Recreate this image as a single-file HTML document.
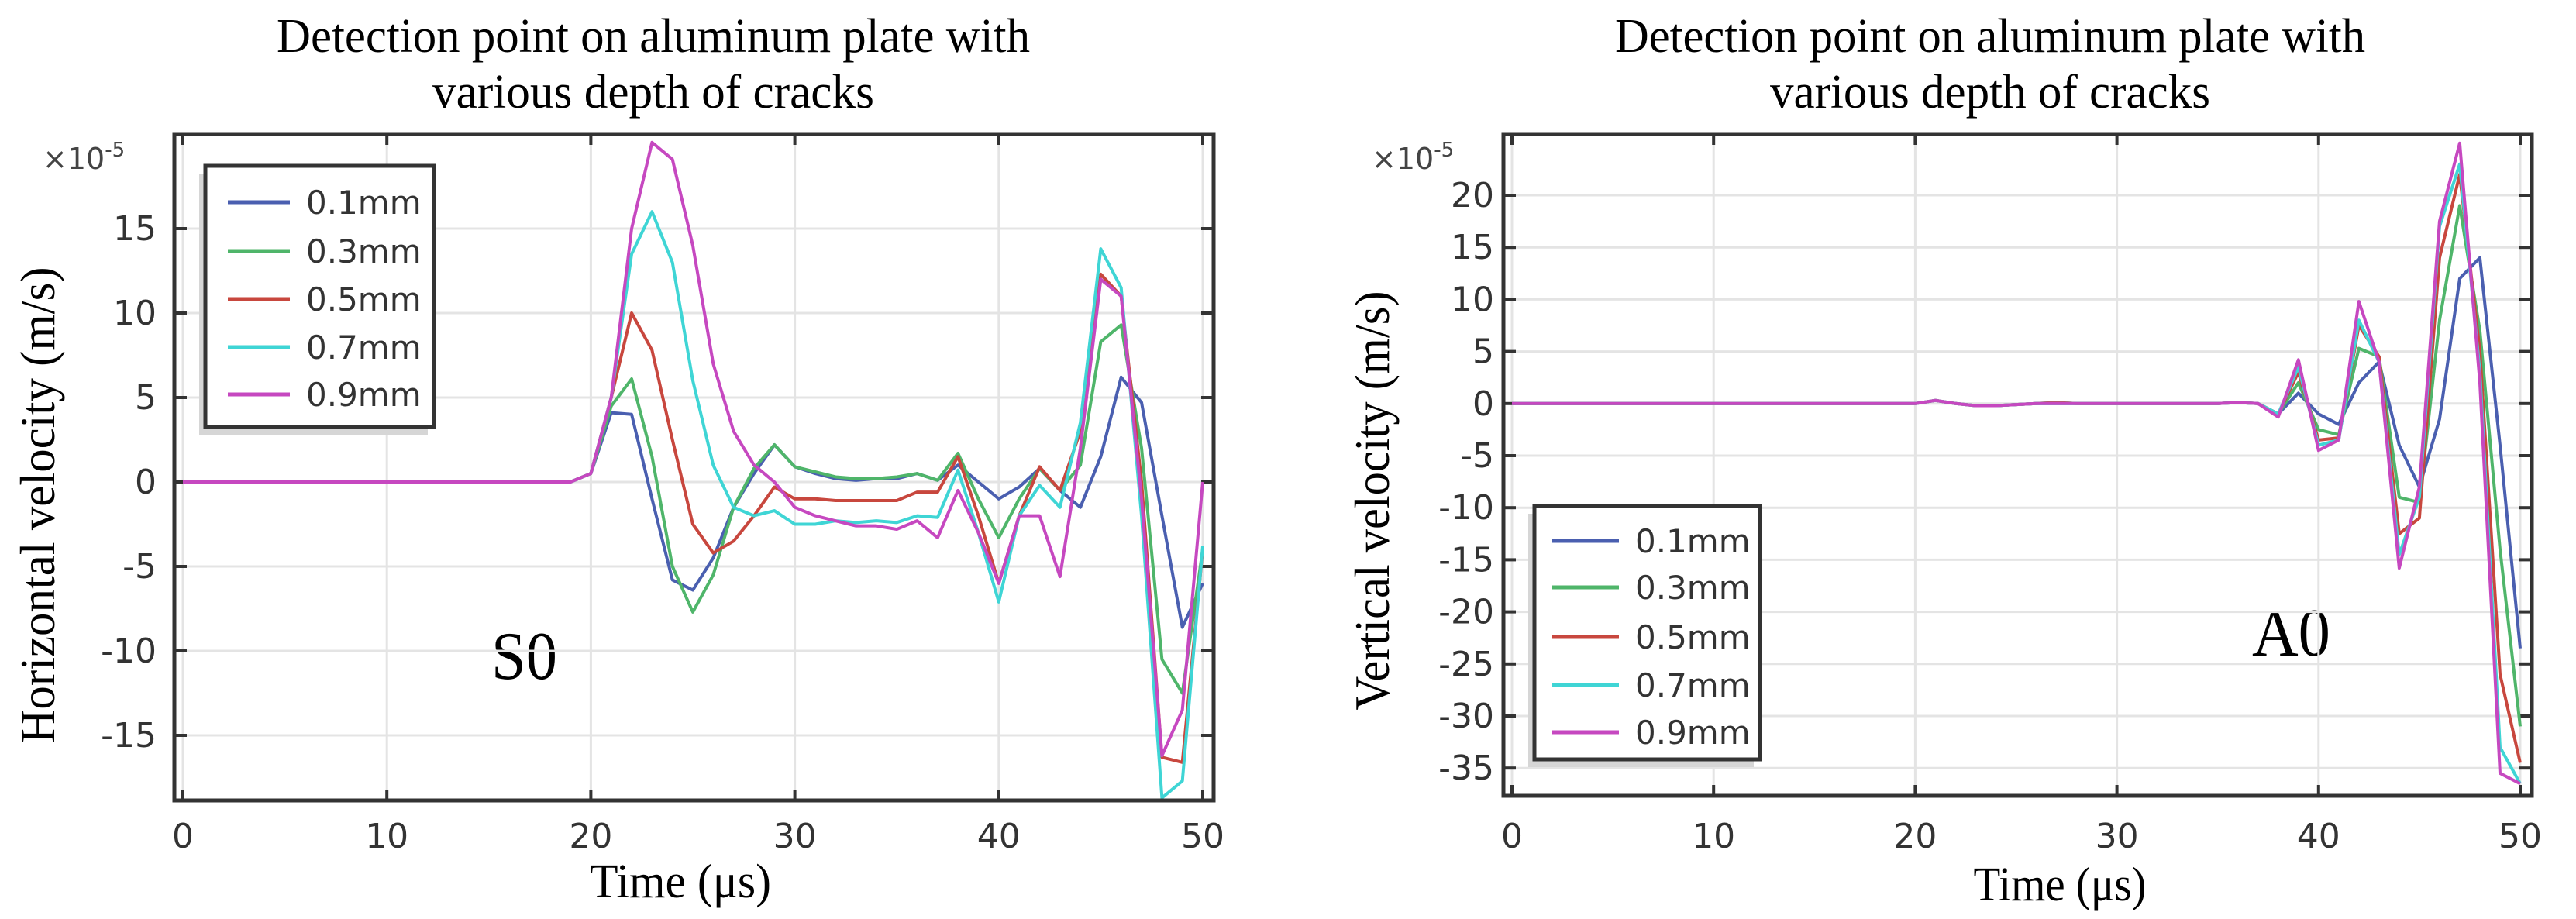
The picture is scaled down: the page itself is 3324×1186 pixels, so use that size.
<!DOCTYPE html>
<html><head><meta charset="utf-8"><style>
html,body{margin:0;padding:0;background:#fff;}
svg{display:block;}
text{font-family:"DejaVu Sans","Liberation Sans",sans-serif;}
.serif{font-family:"Liberation Serif",serif;}
</style></head><body>
<svg id="svg" width="3324" height="1186" viewBox="0 0 3324 1186" xmlns="http://www.w3.org/2000/svg">
<g>
<text class="serif" x="843" y="67" font-size="62" text-anchor="middle" textLength="972" lengthAdjust="spacingAndGlyphs">Detection point on aluminum plate with</text>
<text class="serif" x="843" y="139" font-size="62" text-anchor="middle" textLength="570" lengthAdjust="spacingAndGlyphs">various depth of cracks</text>
<text class="serif" transform="translate(70,652) rotate(-90)" font-size="64" text-anchor="middle" textLength="615" lengthAdjust="spacingAndGlyphs">Horizontal velocity (m/s)</text>
<text class="serif" x="878" y="1158" font-size="62" text-anchor="middle" textLength="234" lengthAdjust="spacingAndGlyphs">Time (μs)</text>
<text x="55" y="218" font-size="38" fill="#444">×10<tspan dy="-16" font-size="26">-5</tspan></text>
<text class="serif" x="634" y="876" font-size="88" textLength="85" lengthAdjust="spacingAndGlyphs">S0</text>
</g>
<g>
<text class="serif" x="2568" y="67" font-size="62" text-anchor="middle" textLength="968" lengthAdjust="spacingAndGlyphs">Detection point on aluminum plate with</text>
<text class="serif" x="2568" y="139" font-size="62" text-anchor="middle" textLength="568" lengthAdjust="spacingAndGlyphs">various depth of cracks</text>
<text class="serif" transform="translate(1792,646) rotate(-90)" font-size="64" text-anchor="middle" textLength="541" lengthAdjust="spacingAndGlyphs">Vertical velocity (m/s)</text>
<text class="serif" x="2658" y="1162" font-size="62" text-anchor="middle" textLength="223" lengthAdjust="spacingAndGlyphs">Time (μs)</text>
<text x="1770" y="218" font-size="38" fill="#444">×10<tspan dy="-16" font-size="26">-5</tspan></text>
<text class="serif" x="2906" y="846" font-size="88" textLength="101" lengthAdjust="spacingAndGlyphs">A0</text>
</g>
</svg>
<script>
const times = [];
for (let t = 0; t <= 50; t++) times.push(t);
const seriesNames = ["0.1mm","0.3mm","0.5mm","0.7mm","0.9mm"];
const colors = ["#4a5fb0","#4fb56a","#c8473e","#3fd5d5","#c648c0"];
const zeros20 = [0,0,0,0,0,0,0,0,0,0,0,0,0,0,0,0,0,0,0,0];
// Left chart (horizontal velocity, S0), values t=20..50
const hBlue    = zeros20.concat([0.5,4.1,4.0,-1,-5.8,-6.4,-4.5,-1.5,0.5,2.2,0.9,0.5,0.2,0.1,0.2,0.2,0.5,0.1,1,0,-1,-0.3,0.8,-0.5,-1.5,1.5,6.2,4.7,-2,-8.6,-6]);
const hGreen   = zeros20.concat([0.5,4.5,6.1,1.5,-5,-7.7,-5.5,-1.5,0.8,2.2,0.9,0.6,0.3,0.2,0.2,0.3,0.5,0.1,1.7,-1,-3.3,-1,0.8,-0.5,1,8.3,9.3,2,-10.5,-12.5,-4]);
const hRed     = zeros20.concat([0.5,5,10,7.8,2.5,-2.5,-4.2,-3.5,-2,-0.3,-1,-1,-1.1,-1.1,-1.1,-1.1,-0.6,-0.6,1.5,-2,-6,-2,0.9,-0.5,3,12.3,11,0,-16.3,-16.6,-4]);
const hCyan    = zeros20.concat([0.5,5,13.5,16,13,6,1,-1.5,-2,-1.7,-2.5,-2.5,-2.3,-2.4,-2.3,-2.4,-2,-2.1,0.7,-3,-7.1,-2,-0.2,-1.5,3.5,13.8,11.5,-2,-18.7,-17.7,-3.8]);
const hMagenta = zeros20.concat([0.5,5,15,20.1,19.1,14,7,3,1,0,-1.5,-2,-2.3,-2.6,-2.6,-2.8,-2.3,-3.3,-0.5,-3,-6,-2,-2,-5.6,2,12,11,-1,-16.2,-13.5,0]);
// Right chart (vertical velocity, A0), values t=0..50
const zeros = [0,0,0,0,0,0,0,0,0,0,0,0,0,0,0,0,0,0,0,0,0];
const vBlue    = zeros.concat([0.3,0,-0.2,-0.2,-0.1,0,0,0,0,0,0,0,0,0,0,0.1,0,-1,1,-1,-2,2,4,-4,-8,-1.5,12,14,-4,-23.5]);
const vGreen   = zeros.concat([0.3,0,-0.2,-0.2,-0.1,0,0.1,0,0,0,0,0,0,0,0,0.1,0,-1,2,-2.5,-3,5.3,4.5,-9,-9.5,8,19,7,-14,-31]);
const vRed     = zeros.concat([0.3,0,-0.2,-0.2,-0.1,0,0.1,0,0,0,0,0,0,0,0,0.1,0,-1,3,-3.5,-3.3,7.5,4.5,-12.5,-11,14,22,5,-26,-34.5]);
const vCyan    = zeros.concat([0.3,0,-0.2,-0.2,-0.1,0,0,0,0,0,0,0,0,0,0,0.1,0,-1,3.5,-4,-3.5,8,4,-14.5,-9,17,23,3,-33,-36.5]);
const vMagenta = zeros.concat([0.3,0,-0.2,-0.2,-0.1,0,0,0,0,0,0,0,0,0,0,0.1,0,-1.3,4.2,-4.5,-3.5,9.8,4,-15.8,-8,17.5,25,2,-35.5,-36.5]);
const xTicks = [0,10,20,30,40,50];
const hYTicks = [-15,-10,-5,0,5,10,15];
const vYTicks = [-35,-30,-25,-20,-15,-10,-5,0,5,10,15,20];

const NS = "http://www.w3.org/2000/svg";
const svg = document.getElementById("svg");
function mk(tag, attrs, parent){const e=document.createElementNS(NS,tag);for(const k in attrs)e.setAttribute(k,attrs[k]);(parent||svg).appendChild(e);return e;}

function chart(cfg){
  const g = mk("g",{});
  
  
  const xs = t => cfg.x0 + t*cfg.xppu;
  const ys = v => cfg.y0 - v*cfg.yppu;
  xTicks.forEach(t=>{
    const l = mk("line",{x1:xs(t),x2:xs(t),y1:cfg.top,y2:cfg.bottom,stroke:"#e4e4e4","stroke-width":3},g);
    
    
    const tk = mk("line",{x1:xs(t),x2:xs(t),y1:cfg.bottom,y2:cfg.bottom-14,stroke:"#333","stroke-width":4},g);
    
    
    const tk2 = mk("line",{x1:xs(t),x2:xs(t),y1:cfg.top,y2:cfg.top+14,stroke:"#333","stroke-width":4},g);
    
    
    const tx = mk("text",{x:xs(t),y:cfg.xLabelY,"font-size":44,"text-anchor":"middle",fill:"#333"},g);
    tx.textContent = t;
    
    
  });
  cfg.yTicks.forEach(v=>{
    const l = mk("line",{x1:cfg.left,x2:cfg.right,y1:ys(v),y2:ys(v),stroke:"#e4e4e4","stroke-width":3},g);
    
    
    const tk = mk("line",{x1:cfg.left,x2:cfg.left+16,y1:ys(v),y2:ys(v),stroke:"#333","stroke-width":4},g);
    
    
    const tk2 = mk("line",{x1:cfg.right,x2:cfg.right-16,y1:ys(v),y2:ys(v),stroke:"#333","stroke-width":4},g);
    
    
    const tx = mk("text",{x:cfg.yLabelX,y:ys(v)+15,"font-size":44,"text-anchor":"end",fill:"#333"},g);
    tx.textContent = v;
    
    
  });
  cfg.series.forEach((vals,i)=>{
    const p = mk("polyline",{points:vals.map((v,j)=>xs(times[j])+","+ys(v)).join(" "),fill:"none",stroke:colors[i],"stroke-width":4,"stroke-linejoin":"round"},g);
    
    
  });
  const fr = mk("rect",{x:cfg.left,y:cfg.top,width:cfg.right-cfg.left,height:cfg.bottom-cfg.top,fill:"none",stroke:"#333","stroke-width":5},g);
  
  
  const L = cfg.legend;
  const lg = mk("g",{},g);
  
  
  mk("rect",{x:L.x-8,y:L.y+10,width:L.w,height:L.h,fill:"#d6d6d6"},lg);
  mk("rect",{x:L.x,y:L.y,width:L.w,height:L.h,fill:"#fff",stroke:"#333","stroke-width":5},lg);
  seriesNames.forEach((n,i)=>{
    const ry = L.rows[i];
    const e = mk("g",{},lg);
    
    
    mk("line",{x1:L.lx1,x2:L.lx2,y1:ry,y2:ry,stroke:colors[i],"stroke-width":5},e);
    const t = mk("text",{x:L.tx,y:ry+15,"font-size":42,fill:"#333"},e);
    t.textContent = n;
  });
}

chart({name:"left-plot", x0:236, xppu:26.32, y0:622, yppu:21.8, left:225, right:1566, top:173, bottom:1033,
  xLabelY:1094, yLabelX:202, yTicks:hYTicks,
  series:[hBlue,hGreen,hRed,hCyan,hMagenta],
  legend:{x:265,y:214,w:295,h:337,lx1:294,lx2:374,tx:395,rows:[261,324,386,448,509]}});
chart({name:"right-plot", x0:1951, xppu:26.02, y0:520.8, yppu:13.44, left:1940, right:3267, top:173, bottom:1027,
  xLabelY:1094, yLabelX:1928, yTicks:vYTicks,
  series:[vBlue,vGreen,vRed,vCyan,vMagenta],
  legend:{x:1980,y:653,w:291,h:327,lx1:2003,lx2:2089,tx:2110,rows:[698,758,822,884,945]}});
</script>
</body></html>
